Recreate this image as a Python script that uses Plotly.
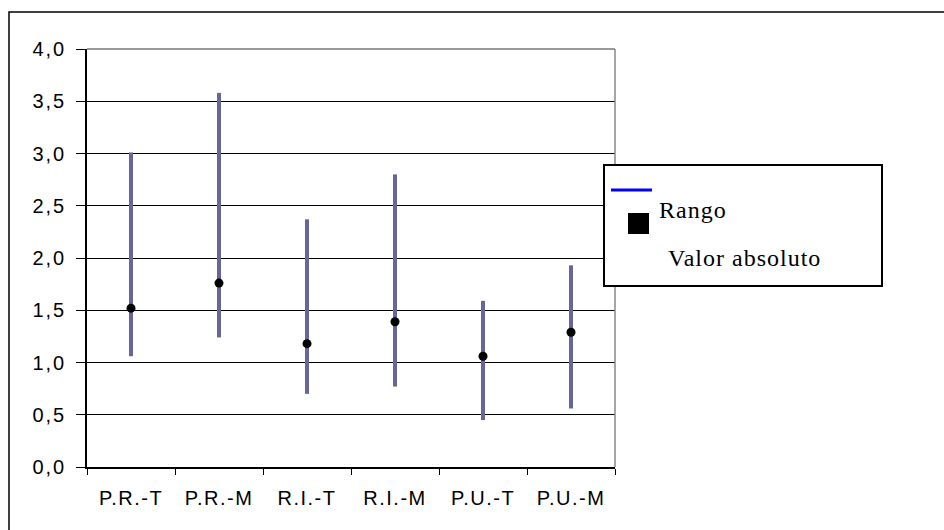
import plotly.graph_objects as go

# Categories and values
categorias = ["P.R.-T", "P.R.-M", "R.I.-T", "R.I.-M", "P.U.-T", "P.U.-M"]
rango_min = [1.06, 1.24, 0.70, 0.77, 0.45, 0.56]
rango_max = [3.01, 3.58, 2.37, 2.80, 1.59, 1.93]
valor_absoluto = [1.52, 1.76, 1.18, 1.39, 1.06, 1.29]
y_ticks = [0.0, 0.5, 1.0, 1.5, 2.0, 2.5, 3.0, 3.5, 4.0]

W, H = 944, 530
L, R, T, B = 87, 329, 49, 63
pw, ph = W - L - R, H - T - B


def px(x):
    return (x - L) / pw


def py(y):
    return (H - B - y) / ph


def spaced(s, ls):
    return f'<span style="letter-spacing:{ls}px">{s}</span>'


fig = go.Figure()

fig.add_trace(go.Scatter(
    x=categorias,
    y=valor_absoluto,
    mode="markers",
    marker=dict(color="black", size=9),
    error_y=dict(
        type="data",
        symmetric=False,
        array=[hi - v for hi, v in zip(rango_max, valor_absoluto)],
        arrayminus=[v - lo for lo, v in zip(rango_min, valor_absoluto)],
        color="#666699",
        thickness=4,
        width=0,
    ),
    showlegend=False,
    hoverinfo="skip",
))

shapes = [
    # outer frame
    dict(type="rect", xref="paper", yref="paper",
         x0=px(9), x1=px(960), y0=py(545), y1=py(12),
         line=dict(color="black", width=1.5), fillcolor="rgba(0,0,0,0)", layer="below"),
    # top and right borders of plot area
    dict(type="line", xref="paper", yref="paper", x0=0, x1=1, y0=1, y1=1,
         line=dict(color="#777777", width=1.5)),
    dict(type="line", xref="paper", yref="paper", x0=1, x1=1, y0=0, y1=1,
         line=dict(color="#888888", width=1.5)),
    # legend box
    dict(type="rect", xref="paper", yref="paper",
         x0=px(604), x1=px(882), y0=py(286), y1=py(165),
         line=dict(color="black", width=2), fillcolor="white"),
    # legend line sample
    dict(type="line", xref="paper", yref="paper",
         x0=px(611), x1=px(652), y0=py(190), y1=py(190),
         line=dict(color="#0000ff", width=3)),
    # legend marker sample
    dict(type="rect", xref="paper", yref="paper",
         x0=px(628), x1=px(649), y0=py(234), y1=py(213),
         line=dict(color="black", width=0), fillcolor="black"),
]

annotations = [
    dict(text=spaced("Rango", 1), xref="paper", yref="paper",
         x=px(657), y=py(210), xanchor="left", yanchor="middle", showarrow=False,
         font=dict(family="Liberation Serif", size=24, color="black")),
    dict(text=spaced("Valor absoluto", 1), xref="paper", yref="paper",
         x=px(666), y=py(258), xanchor="left", yanchor="middle", showarrow=False,
         font=dict(family="Liberation Serif", size=24, color="black")),
]

fig.update_layout(
    width=W, height=H,
    margin=dict(l=L, r=R, t=T, b=B),
    paper_bgcolor="white",
    plot_bgcolor="white",
    shapes=shapes,
    annotations=annotations,
    font=dict(family="Liberation Sans", size=20, color="black"),
    xaxis=dict(
        type="category",
        range=[-0.5, len(categorias) - 0.5],
        tickmode="array",
        tickvals=categorias,
        ticktext=[spaced(c, 1.5) for c in categorias],
        tickson="boundaries",
        ticks="outside", ticklen=6, tickcolor="black", tickwidth=1,
        showline=True, linecolor="black", linewidth=1.5,
        showgrid=False, zeroline=False,
        ticklabelstandoff=12,
    ),
    yaxis=dict(
        range=[0, 4],
        tickmode="array",
        tickvals=y_ticks,
        ticktext=[spaced(f"{v:.1f}".replace(".", ","), 2) for v in y_ticks],
        ticks="outside", ticklen=9, tickcolor="black", tickwidth=1,
        showline=True, linecolor="black", linewidth=1.5,
        showgrid=True, gridcolor="black", gridwidth=1,
        zeroline=False,
        ticklabelstandoff=6,
    ),
)

fig.write_html("out.html")
